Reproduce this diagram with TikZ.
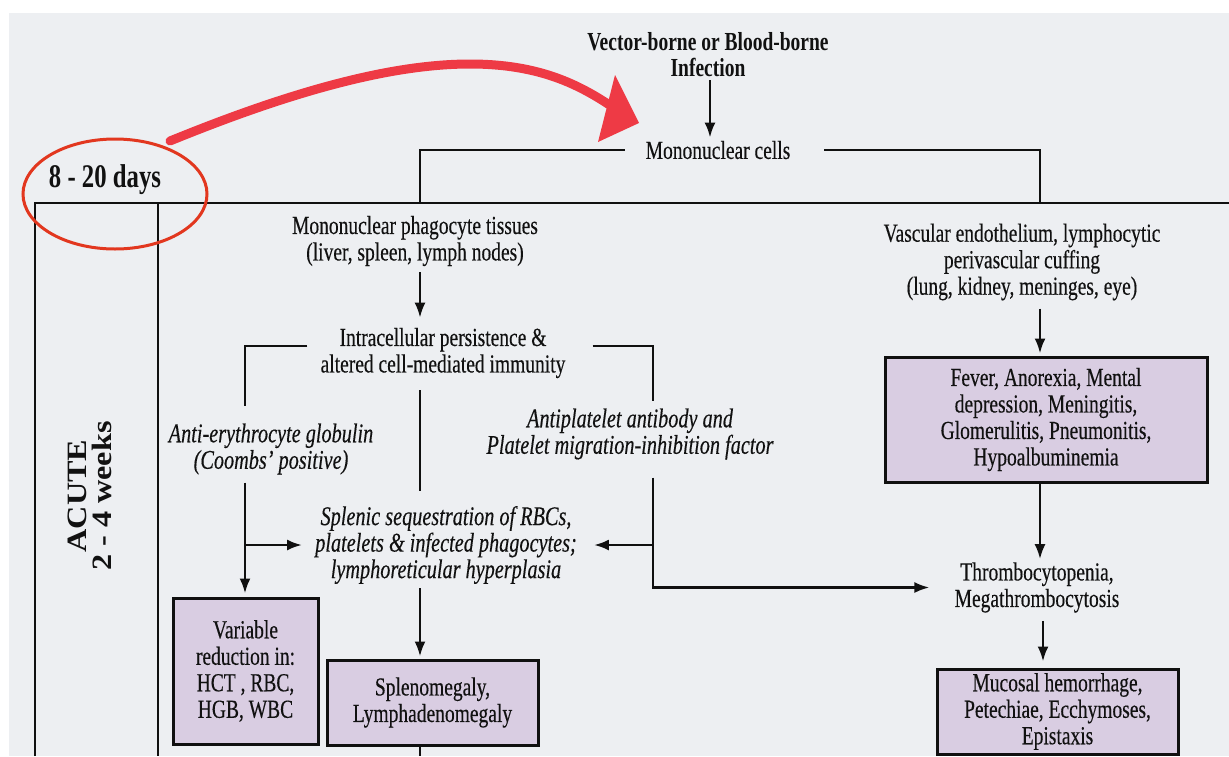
\documentclass[tikz,border=0pt]{standalone}
\usepackage{fontspec}
\setmainfont[FakeStretch=0.75, UprightFeatures={FakeBold=0.3}, ItalicFeatures={FakeBold=0.3}]{Liberation Serif}
\newfontfamily\acutefont[FakeStretch=1.15]{Liberation Serif}
\usetikzlibrary{arrows.meta,calc}
\definecolor{bgc}{HTML}{EDEFF2}
\definecolor{boxc}{HTML}{D9CDE2}
\definecolor{linec}{HTML}{101010}
\definecolor{txtc}{HTML}{111111}
\definecolor{redc}{HTML}{EE3A45}
\definecolor{ellc}{HTML}{E2371F}
\tikzset{
  txt/.style={align=center, inner sep=3pt, text=txtc, font=\fontsize{26}{26.5}\selectfont},
  itxt/.style={txt, font=\fontsize{27}{26.5}\selectfont\itshape},
  btxt/.style={txt, font=\fontsize{26}{26}\selectfont\bfseries},
  conn/.style={line width=2.6pt, draw=linec},
  arr/.style={conn, -{Latex[length=15pt,width=11pt]}},
  pbox/.style={txt, draw=linec, line width=3pt, fill=boxc, inner sep=0pt},
  framel/.style={line width=2.6pt, draw=linec}
}
\begin{document}
\begin{tikzpicture}[x=1pt,y=-1pt]
\useasboundingbox (0,0) rectangle (1229,756);
\fill[white] (0,0) rectangle (1229,756);
\fill[bgc] (9,13) rectangle (1229,756);

% column coordinates
\coordinate (lx) at (245,0);
\coordinate (mx) at (420,0);
\coordinate (rx) at (653,0);
\coordinate (ex) at (1040,0);
\coordinate (ftl) at (35,203);
\coordinate (ftr) at (1229,203);
\coordinate (fbl) at (35,756);
\coordinate (fit) at (158,203);
\coordinate (fib) at (158,756);
\coordinate (bot) at (0,756);

% frame
\draw[framel] (fbl) -- (ftl) -- (ftr);
\draw[framel] (fit) -- (fib);

% nodes
\node[btxt] (vec) at (708,55) {Vector-borne or Blood-borne\\Infection};
\node[txt] (mono) at (718,150) {Mononuclear cells};
\node[txt, font=\fontsize{33}{33}\selectfont\bfseries] (days) at (105,180) {8 - 20 days};
\node[txt, rotate=90, font=\acutefont\bfseries\fontsize{28}{25}\selectfont] (acute) at (90,496) {ACUTE\\2 - 4 weeks};

\node[txt] (mpt) at (415,241) {Mononuclear phagocyte tissues\\(liver, spleen, lymph nodes)};
\node[txt] (icp) at (443,353) {Intracellular persistence \&\\altered cell-mediated immunity};
\node[itxt] (aeg) at (271,449) {Anti-erythrocyte globulin\\(Coombs' positive)};
\node[itxt] (app) at (630,434) {Antiplatelet antibody and\\Platelet migration-inhibition factor};
\node[itxt] (ss) at (446,545) {Splenic sequestration of RBCs,\\platelets \& infected phagocytes;\\lymphoreticular hyperplasia};
\node[pbox, minimum width=145pt, minimum height=146pt] (vr) at (245.5,671) {Variable\\reduction in:\\HCT , RBC,\\HGB, WBC};
\node[pbox, minimum width=211pt, minimum height=85pt] (sp) at (432.5,702.5) {Splenomegaly,\\Lymphadenomegaly};

\node[txt] (vasc) at (1022,262) {Vascular endothelium, lymphocytic\\perivascular cuffing\\(lung, kidney, meninges, eye)};
\node[pbox, minimum width=322pt, minimum height=125pt] (fev) at (1046,419.5) {Fever, Anorexia, Mental\\depression, Meningitis,\\Glomerulitis, Pneumonitis,\\Hypoalbuminemia};
\node[txt] (thr) at (1037,587.5) {Thrombocytopenia,\\Megathrombocytosis};
\node[pbox, minimum width=241pt, minimum height=85pt] (muc) at (1057.5,711.5) {Mucosal hemorrhage,\\Petechiae, Ecchymoses,\\Epistaxis};

% top connectors
\draw[arr] (vec.south -| 710,0) -- (mono.north -| 710,0);
\draw[conn] ([xshift=-18pt]mono.west) -- (mono.west -| mx) -- (mx |- ftl);
\draw[conn] ([xshift=31pt]mono.east) -- (mono.east -| ex) -- (ex |- ftl);

% left column
\draw[arr] ([yshift=-3pt]mpt.south -| mx) -- ([yshift=7pt]icp.north -| mx);
\draw[conn] ([shift={(-10,-7)}]icp.west) -| ([yshift=14pt]aeg.north -| lx);
\draw[arr] ([yshift=-5pt]aeg.south -| lx) -- ([yshift=3pt]vr.north -| lx);
\draw[arr] (lx |- ss.west) -- ([xshift=-10pt]ss.west);
\draw[conn] ([yshift=-9pt]icp.south -| mx) -- ([yshift=12pt]ss.north -| mx);
\draw[arr] ([yshift=-1pt]ss.south -| mx) -- ([yshift=2pt]sp.north -| mx);
\draw[conn] (sp.south -| mx) -- (mx |- bot);

% right bracket
\draw[conn] ([shift={(24,-7)}]icp.east) -| ([yshift=4pt]app.north -| rx);
\draw[arr] ([yshift=-15pt]app.south -| rx) |- ([xshift=-22pt]thr.west);
\draw[arr] (rx |- ss.east) -- ([xshift=14pt]ss.east);

% right column
\draw[arr] ([yshift=-5pt]vasc.south -| ex) -- ([yshift=2pt]fev.north -| ex);
\draw[arr] (fev.south -| ex) -- (thr.north -| ex);
\draw[arr] ([yshift=-5pt]thr.south -| 1043,0) -- ([yshift=6pt]muc.north -| 1043,0);

% red annotation
\draw[ellc, line width=3pt] (115,194) ellipse [x radius=92pt, y radius=55pt];
\coordinate (ra) at (170,141);
\coordinate (rb) at (470,64);
\coordinate (rc) at (614,108);
\draw[redc, line width=9pt, line cap=round] (ra) .. controls (290,92) and (390,64) .. (rb) .. controls (540,64) and (580,85) .. (rc);
\fill[redc] (615,75) -- (639,123) -- (598,142) -- cycle;
\end{tikzpicture}
\end{document}
